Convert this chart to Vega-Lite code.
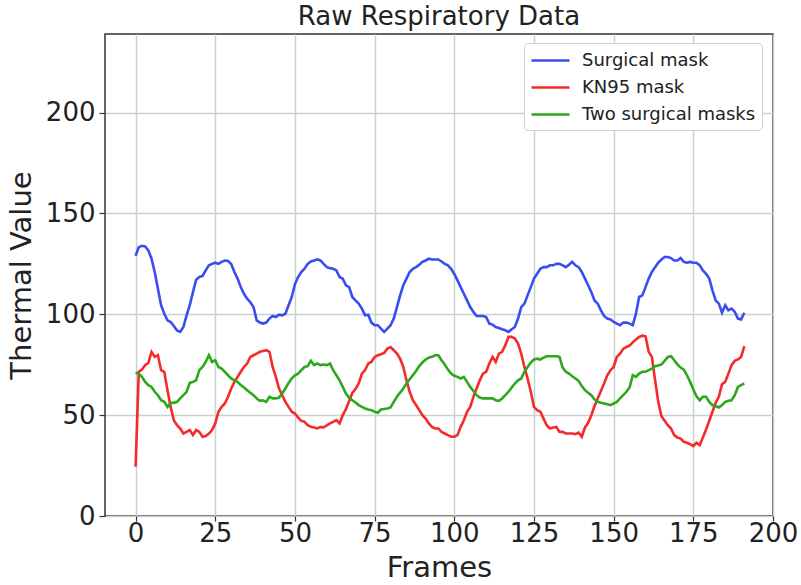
{
  "$schema": "https://vega.github.io/schema/vega-lite/v6.json",
  "width": 668,
  "height": 482,
  "autosize": {"type": "none"},
  "padding": {"left": 105, "top": 34, "right": 28, "bottom": 69},
  "background": "white",
  "config": {"font": "DejaVu Sans", "view": {"stroke": "#333", "strokeWidth": 1.5}},
  "title": {"text": "Raw Respiratory Data", "fontSize": 26, "fontWeight": "normal", "color": "#222", "offset": 4, "anchor": "middle"},
  "data": {"values": [
{"frame":0,"Surgical mask":129,"KN95 mask":24.4,"Two surgical masks":71},
{"frame":1,"Surgical mask":133.3,"KN95 mask":71.5,"Two surgical masks":70.6},
{"frame":2,"Surgical mask":134,"KN95 mask":72.6,"Two surgical masks":69},
{"frame":3,"Surgical mask":133.7,"KN95 mask":74.8,"Two surgical masks":66.5},
{"frame":4,"Surgical mask":131.7,"KN95 mask":75.9,"Two surgical masks":64.9},
{"frame":5,"Surgical mask":127.6,"KN95 mask":81.4,"Two surgical masks":64},
{"frame":6,"Surgical mask":121,"KN95 mask":78.9,"Two surgical masks":61.6},
{"frame":7,"Surgical mask":112.7,"KN95 mask":79.7,"Two surgical masks":59.9},
{"frame":8,"Surgical mask":104.5,"KN95 mask":72.3,"Two surgical masks":57.4},
{"frame":9,"Surgical mask":100.3,"KN95 mask":71.5,"Two surgical masks":56.6},
{"frame":10,"Surgical mask":97,"KN95 mask":62.4,"Two surgical masks":54.1},
{"frame":11,"Surgical mask":96.2,"KN95 mask":54.1,"Two surgical masks":56.1},
{"frame":12,"Surgical mask":94.2,"KN95 mask":47.5,"Two surgical masks":56.1},
{"frame":13,"Surgical mask":92,"KN95 mask":45,"Two surgical masks":56.6},
{"frame":14,"Surgical mask":91.3,"KN95 mask":43.4,"Two surgical masks":58.3},
{"frame":15,"Surgical mask":93.7,"KN95 mask":40.9,"Two surgical masks":59.9},
{"frame":16,"Surgical mask":99.5,"KN95 mask":41.7,"Two surgical masks":61.6},
{"frame":17,"Surgical mask":104.5,"KN95 mask":42.6,"Two surgical masks":66},
{"frame":18,"Surgical mask":111,"KN95 mask":40.1,"Two surgical masks":66.5},
{"frame":19,"Surgical mask":117.2,"KN95 mask":42.6,"Two surgical masks":67.3},
{"frame":20,"Surgical mask":118.5,"KN95 mask":41.7,"Two surgical masks":72.3},
{"frame":21,"Surgical mask":119,"KN95 mask":39.3,"Two surgical masks":73.9},
{"frame":22,"Surgical mask":121.8,"KN95 mask":39.6,"Two surgical masks":76.4},
{"frame":23,"Surgical mask":124.3,"KN95 mask":40.9,"Two surgical masks":79.7},
{"frame":24,"Surgical mask":125,"KN95 mask":42.6,"Two surgical masks":76.4},
{"frame":25,"Surgical mask":125.6,"KN95 mask":45.9,"Two surgical masks":77.2},
{"frame":26,"Surgical mask":125,"KN95 mask":51.7,"Two surgical masks":73.9},
{"frame":27,"Surgical mask":126,"KN95 mask":54.1,"Two surgical masks":73.1},
{"frame":28,"Surgical mask":126.7,"KN95 mask":55.8,"Two surgical masks":71.5},
{"frame":29,"Surgical mask":126.4,"KN95 mask":59.1,"Two surgical masks":69.8},
{"frame":30,"Surgical mask":125,"KN95 mask":63.2,"Two surgical masks":68.2},
{"frame":31,"Surgical mask":121,"KN95 mask":66.5,"Two surgical masks":67.3},
{"frame":32,"Surgical mask":117.7,"KN95 mask":69,"Two surgical masks":66.5},
{"frame":33,"Surgical mask":113.5,"KN95 mask":71.5,"Two surgical masks":64.9},
{"frame":34,"Surgical mask":110.2,"KN95 mask":73.9,"Two surgical masks":63.7},
{"frame":35,"Surgical mask":107.8,"KN95 mask":75.6,"Two surgical masks":62.4},
{"frame":36,"Surgical mask":106,"KN95 mask":78.9,"Two surgical masks":61.1},
{"frame":37,"Surgical mask":103.6,"KN95 mask":79.7,"Two surgical masks":59.9},
{"frame":38,"Surgical mask":97,"KN95 mask":80.5,"Two surgical masks":58.3},
{"frame":39,"Surgical mask":95.9,"KN95 mask":81.4,"Two surgical masks":57.1},
{"frame":40,"Surgical mask":95.4,"KN95 mask":81.8,"Two surgical masks":57.4},
{"frame":41,"Surgical mask":95.9,"KN95 mask":82.2,"Two surgical masks":56.6},
{"frame":42,"Surgical mask":97.9,"KN95 mask":81.4,"Two surgical masks":59.1},
{"frame":43,"Surgical mask":99.2,"KN95 mask":73.9,"Two surgical masks":58.3},
{"frame":44,"Surgical mask":98.7,"KN95 mask":69,"Two surgical masks":58.3},
{"frame":45,"Surgical mask":99.8,"KN95 mask":63.2,"Two surgical masks":58.7},
{"frame":46,"Surgical mask":99.5,"KN95 mask":59.9,"Two surgical masks":60.7},
{"frame":47,"Surgical mask":100.3,"KN95 mask":56.6,"Two surgical masks":63.2},
{"frame":48,"Surgical mask":104.5,"KN95 mask":54.1,"Two surgical masks":66},
{"frame":49,"Surgical mask":108.6,"KN95 mask":51.7,"Two surgical masks":68.2},
{"frame":50,"Surgical mask":115,"KN95 mask":50.8,"Two surgical masks":69.8},
{"frame":51,"Surgical mask":118.5,"KN95 mask":48.8,"Two surgical masks":70.6},
{"frame":52,"Surgical mask":121,"KN95 mask":47.2,"Two surgical masks":72.3},
{"frame":53,"Surgical mask":122.6,"KN95 mask":46.7,"Two surgical masks":73.9},
{"frame":54,"Surgical mask":125,"KN95 mask":45,"Two surgical masks":74.3},
{"frame":55,"Surgical mask":126.2,"KN95 mask":44.2,"Two surgical masks":76.9},
{"frame":56,"Surgical mask":126.7,"KN95 mask":43.9,"Two surgical masks":74.8},
{"frame":57,"Surgical mask":127.2,"KN95 mask":43.4,"Two surgical masks":75.6},
{"frame":58,"Surgical mask":126.7,"KN95 mask":44.2,"Two surgical masks":74.8},
{"frame":59,"Surgical mask":125,"KN95 mask":43.9,"Two surgical masks":75.1},
{"frame":60,"Surgical mask":123.4,"KN95 mask":45,"Two surgical masks":74.8},
{"frame":61,"Surgical mask":122.9,"KN95 mask":45.9,"Two surgical masks":75.6},
{"frame":62,"Surgical mask":122.6,"KN95 mask":46.7,"Two surgical masks":72.3},
{"frame":63,"Surgical mask":121.8,"KN95 mask":47.5,"Two surgical masks":69.8},
{"frame":64,"Surgical mask":118.5,"KN95 mask":45.9,"Two surgical masks":67.3},
{"frame":65,"Surgical mask":117.7,"KN95 mask":50,"Two surgical masks":64},
{"frame":66,"Surgical mask":114.4,"KN95 mask":53,"Two surgical masks":60.7},
{"frame":67,"Surgical mask":113.5,"KN95 mask":57,"Two surgical masks":58.6},
{"frame":68,"Surgical mask":108.6,"KN95 mask":61,"Two surgical masks":57.4},
{"frame":69,"Surgical mask":106.9,"KN95 mask":63,"Two surgical masks":56.3},
{"frame":70,"Surgical mask":105.3,"KN95 mask":65.7,"Two surgical masks":55},
{"frame":71,"Surgical mask":102.8,"KN95 mask":70.6,"Two surgical masks":54.1},
{"frame":72,"Surgical mask":99.5,"KN95 mask":72.3,"Two surgical masks":53.3},
{"frame":73,"Surgical mask":99.8,"KN95 mask":75.6,"Two surgical masks":52.8},
{"frame":74,"Surgical mask":95.9,"KN95 mask":76.4,"Two surgical masks":52.5},
{"frame":75,"Surgical mask":94.6,"KN95 mask":78.9,"Two surgical masks":51.7},
{"frame":76,"Surgical mask":94.6,"KN95 mask":79.7,"Two surgical masks":51.2},
{"frame":77,"Surgical mask":92.9,"KN95 mask":80.2,"Two surgical masks":52.8},
{"frame":78,"Surgical mask":91.3,"KN95 mask":80.9,"Two surgical masks":53.1},
{"frame":79,"Surgical mask":92.9,"KN95 mask":83,"Two surgical masks":53.3},
{"frame":80,"Surgical mask":94.6,"KN95 mask":83.8,"Two surgical masks":53.8},
{"frame":81,"Surgical mask":97.9,"KN95 mask":82.2,"Two surgical masks":56.6},
{"frame":82,"Surgical mask":103.6,"KN95 mask":80.5,"Two surgical masks":59.1},
{"frame":83,"Surgical mask":109.4,"KN95 mask":78,"Two surgical masks":61.2},
{"frame":84,"Surgical mask":114.4,"KN95 mask":73.9,"Two surgical masks":63.2},
{"frame":85,"Surgical mask":117.7,"KN95 mask":67.3,"Two surgical masks":65.7},
{"frame":86,"Surgical mask":121,"KN95 mask":61.6,"Two surgical masks":67.8},
{"frame":87,"Surgical mask":122.6,"KN95 mask":57.4,"Two surgical masks":69.8},
{"frame":88,"Surgical mask":123.4,"KN95 mask":55,"Two surgical masks":71.9},
{"frame":89,"Surgical mask":124.6,"KN95 mask":52.5,"Two surgical masks":74.3},
{"frame":90,"Surgical mask":126,"KN95 mask":50,"Two surgical masks":76.1},
{"frame":91,"Surgical mask":126.7,"KN95 mask":48.3,"Two surgical masks":77.6},
{"frame":92,"Surgical mask":127.6,"KN95 mask":45.9,"Two surgical masks":78.5},
{"frame":93,"Surgical mask":127.2,"KN95 mask":44.2,"Two surgical masks":78.9},
{"frame":94,"Surgical mask":127.2,"KN95 mask":43.4,"Two surgical masks":79.7},
{"frame":95,"Surgical mask":127.2,"KN95 mask":43.4,"Two surgical masks":79.7},
{"frame":96,"Surgical mask":126.2,"KN95 mask":41.7,"Two surgical masks":77.2},
{"frame":97,"Surgical mask":125,"KN95 mask":40.9,"Two surgical masks":75.1},
{"frame":98,"Surgical mask":124.3,"KN95 mask":40.1,"Two surgical masks":72.6},
{"frame":99,"Surgical mask":122.6,"KN95 mask":39.3,"Two surgical masks":70.6},
{"frame":100,"Surgical mask":120,"KN95 mask":39.3,"Two surgical masks":69.5},
{"frame":101,"Surgical mask":116.8,"KN95 mask":40.1,"Two surgical masks":69},
{"frame":102,"Surgical mask":113.5,"KN95 mask":44.2,"Two surgical masks":68.2},
{"frame":103,"Surgical mask":110.2,"KN95 mask":47.5,"Two surgical masks":69},
{"frame":104,"Surgical mask":106.9,"KN95 mask":51.7,"Two surgical masks":66.5},
{"frame":105,"Surgical mask":103.6,"KN95 mask":54.1,"Two surgical masks":64},
{"frame":106,"Surgical mask":101.2,"KN95 mask":59.1,"Two surgical masks":62},
{"frame":107,"Surgical mask":99.2,"KN95 mask":63.2,"Two surgical masks":59.9},
{"frame":108,"Surgical mask":99.2,"KN95 mask":67.3,"Two surgical masks":58.7},
{"frame":109,"Surgical mask":99.2,"KN95 mask":70.6,"Two surgical masks":58.3},
{"frame":110,"Surgical mask":98.7,"KN95 mask":71.5,"Two surgical masks":58.3},
{"frame":111,"Surgical mask":95.4,"KN95 mask":75.6,"Two surgical masks":58.3},
{"frame":112,"Surgical mask":94.9,"KN95 mask":78.9,"Two surgical masks":58.3},
{"frame":113,"Surgical mask":93.7,"KN95 mask":76.4,"Two surgical masks":57.4},
{"frame":114,"Surgical mask":93.2,"KN95 mask":80.5,"Two surgical masks":57.1},
{"frame":115,"Surgical mask":92.6,"KN95 mask":81.4,"Two surgical masks":58.3},
{"frame":116,"Surgical mask":92.1,"KN95 mask":84.7,"Two surgical masks":59.9},
{"frame":117,"Surgical mask":91.3,"KN95 mask":88.8,"Two surgical masks":61.6},
{"frame":118,"Surgical mask":92.6,"KN95 mask":88.8,"Two surgical masks":63.7},
{"frame":119,"Surgical mask":93.7,"KN95 mask":88,"Two surgical masks":65.7},
{"frame":120,"Surgical mask":97.9,"KN95 mask":85.5,"Two surgical masks":67.3},
{"frame":121,"Surgical mask":103.6,"KN95 mask":80.5,"Two surgical masks":68.2},
{"frame":122,"Surgical mask":105.3,"KN95 mask":73.9,"Two surgical masks":71.5},
{"frame":123,"Surgical mask":109.4,"KN95 mask":68.2,"Two surgical masks":73.9},
{"frame":124,"Surgical mask":113.5,"KN95 mask":61.6,"Two surgical masks":76.1},
{"frame":125,"Surgical mask":117.7,"KN95 mask":54.1,"Two surgical masks":77.6},
{"frame":126,"Surgical mask":120.1,"KN95 mask":52.5,"Two surgical masks":78},
{"frame":127,"Surgical mask":122.6,"KN95 mask":51.7,"Two surgical masks":77.6},
{"frame":128,"Surgical mask":123.4,"KN95 mask":48.3,"Two surgical masks":78.5},
{"frame":129,"Surgical mask":123.4,"KN95 mask":45,"Two surgical masks":79.2},
{"frame":130,"Surgical mask":124.3,"KN95 mask":43.4,"Two surgical masks":79.2},
{"frame":131,"Surgical mask":124.3,"KN95 mask":43.9,"Two surgical masks":79.2},
{"frame":132,"Surgical mask":125,"KN95 mask":44.2,"Two surgical masks":79.2},
{"frame":133,"Surgical mask":125,"KN95 mask":41.7,"Two surgical masks":78.9},
{"frame":134,"Surgical mask":124.3,"KN95 mask":41.7,"Two surgical masks":73.6},
{"frame":135,"Surgical mask":123.4,"KN95 mask":40.9,"Two surgical masks":71.5},
{"frame":136,"Surgical mask":124.6,"KN95 mask":40.9,"Two surgical masks":70.6},
{"frame":137,"Surgical mask":126,"KN95 mask":40.9,"Two surgical masks":69.3},
{"frame":138,"Surgical mask":124.3,"KN95 mask":40.6,"Two surgical masks":68.2},
{"frame":139,"Surgical mask":123.4,"KN95 mask":41.3,"Two surgical masks":67},
{"frame":140,"Surgical mask":121,"KN95 mask":39.3,"Two surgical masks":64.4},
{"frame":141,"Surgical mask":117.7,"KN95 mask":43.9,"Two surgical masks":62.4},
{"frame":142,"Surgical mask":114.4,"KN95 mask":46.2,"Two surgical masks":61.1},
{"frame":143,"Surgical mask":111,"KN95 mask":50,"Two surgical masks":59.9},
{"frame":144,"Surgical mask":106.9,"KN95 mask":54.5,"Two surgical masks":57.8},
{"frame":145,"Surgical mask":105.3,"KN95 mask":58.3,"Two surgical masks":56.6},
{"frame":146,"Surgical mask":102,"KN95 mask":62,"Two surgical masks":56.1},
{"frame":147,"Surgical mask":99.2,"KN95 mask":65.7,"Two surgical masks":55.8},
{"frame":148,"Surgical mask":97.9,"KN95 mask":69.8,"Two surgical masks":55.4},
{"frame":149,"Surgical mask":97.5,"KN95 mask":72.3,"Two surgical masks":55},
{"frame":150,"Surgical mask":96.2,"KN95 mask":73.9,"Two surgical masks":55.8},
{"frame":151,"Surgical mask":95.4,"KN95 mask":78.9,"Two surgical masks":56.6},
{"frame":152,"Surgical mask":94.6,"KN95 mask":80.5,"Two surgical masks":58.3},
{"frame":153,"Surgical mask":95.9,"KN95 mask":82.8,"Two surgical masks":59.9},
{"frame":154,"Surgical mask":95.9,"KN95 mask":83.8,"Two surgical masks":61.6},
{"frame":155,"Surgical mask":95.4,"KN95 mask":84.5,"Two surgical masks":63.7},
{"frame":156,"Surgical mask":94.6,"KN95 mask":86.1,"Two surgical masks":69.8},
{"frame":157,"Surgical mask":100.3,"KN95 mask":87.5,"Two surgical masks":69},
{"frame":158,"Surgical mask":108.6,"KN95 mask":88.8,"Two surgical masks":70.6},
{"frame":159,"Surgical mask":109.4,"KN95 mask":89.4,"Two surgical masks":71.5},
{"frame":160,"Surgical mask":113.5,"KN95 mask":89.1,"Two surgical masks":71.5},
{"frame":161,"Surgical mask":117.7,"KN95 mask":81.4,"Two surgical masks":72.3},
{"frame":162,"Surgical mask":121,"KN95 mask":78.9,"Two surgical masks":73.1},
{"frame":163,"Surgical mask":123.4,"KN95 mask":67.3,"Two surgical masks":74.3},
{"frame":164,"Surgical mask":125.6,"KN95 mask":56.6,"Two surgical masks":74.6},
{"frame":165,"Surgical mask":127.2,"KN95 mask":49.5,"Two surgical masks":75.2},
{"frame":166,"Surgical mask":128.4,"KN95 mask":47.2,"Two surgical masks":76.9},
{"frame":167,"Surgical mask":128.4,"KN95 mask":45,"Two surgical masks":78.9},
{"frame":168,"Surgical mask":127.9,"KN95 mask":43.4,"Two surgical masks":79.2},
{"frame":169,"Surgical mask":126.7,"KN95 mask":40.1,"Two surgical masks":77.2},
{"frame":170,"Surgical mask":126.7,"KN95 mask":38.9,"Two surgical masks":75.2},
{"frame":171,"Surgical mask":127.9,"KN95 mask":38.4,"Two surgical masks":73.6},
{"frame":172,"Surgical mask":126,"KN95 mask":36.8,"Two surgical masks":72.6},
{"frame":173,"Surgical mask":125.6,"KN95 mask":36.3,"Two surgical masks":69.8},
{"frame":174,"Surgical mask":126,"KN95 mask":35.6,"Two surgical masks":66.5},
{"frame":175,"Surgical mask":125.6,"KN95 mask":34.7,"Two surgical masks":62.7},
{"frame":176,"Surgical mask":125.6,"KN95 mask":36.3,"Two surgical masks":59.4},
{"frame":177,"Surgical mask":124.3,"KN95 mask":35.1,"Two surgical masks":57.4},
{"frame":178,"Surgical mask":121.8,"KN95 mask":38.9,"Two surgical masks":59.1},
{"frame":179,"Surgical mask":120.1,"KN95 mask":42.9,"Two surgical masks":59.1},
{"frame":180,"Surgical mask":117.7,"KN95 mask":47.2,"Two surgical masks":56.6},
{"frame":181,"Surgical mask":111.9,"KN95 mask":51.7,"Two surgical masks":55},
{"frame":182,"Surgical mask":106.9,"KN95 mask":56.1,"Two surgical masks":54.5},
{"frame":183,"Surgical mask":105.3,"KN95 mask":59.1,"Two surgical masks":53.8},
{"frame":184,"Surgical mask":100.8,"KN95 mask":65.3,"Two surgical masks":55},
{"frame":185,"Surgical mask":104.5,"KN95 mask":66.5,"Two surgical masks":56.6},
{"frame":186,"Surgical mask":102,"KN95 mask":70.6,"Two surgical masks":57.1},
{"frame":187,"Surgical mask":102.8,"KN95 mask":74.8,"Two surgical masks":57.4},
{"frame":188,"Surgical mask":101.2,"KN95 mask":76.9,"Two surgical masks":59.9},
{"frame":189,"Surgical mask":97.9,"KN95 mask":77.6,"Two surgical masks":64},
{"frame":190,"Surgical mask":97.5,"KN95 mask":78.9,"Two surgical masks":64.9},
{"frame":191,"Surgical mask":100.8,"KN95 mask":84.2,"Two surgical masks":65.7}
  ]},
  "transform": [{"fold": ["Surgical mask", "KN95 mask", "Two surgical masks"], "as": ["series", "value"]}],
  "mark": {"type": "line", "strokeWidth": 2.6, "clip": true},
  "encoding": {
    "x": {
      "field": "frame", "type": "quantitative",
      "scale": {"domain": [-9.6, 200], "nice": false, "zero": false},
      "axis": {"values": [0, 25, 50, 75, 100, 125, 150, 175, 200], "title": "Frames", "grid": true, "gridColor": "#c9d1d1", "gridWidth": 1.5, "domain": false, "tickColor": "#333", "tickSize": 5, "tickWidth": 1.2, "labelFontSize": 26, "labelColor": "#222", "labelFlush": false, "labelPadding": -1, "titleFontSize": 29, "titleFontWeight": "normal", "titleColor": "#222", "titlePadding": 7}
    },
    "y": {
      "field": "value", "type": "quantitative",
      "scale": {"domain": [0, 239], "nice": false},
      "axis": {"values": [0, 50, 100, 150, 200], "title": "Thermal Value", "grid": true, "gridColor": "#c9d1d1", "gridWidth": 1.5, "domain": false, "tickColor": "#333", "tickSize": 6, "tickWidth": 1.2, "labelFontSize": 26, "labelColor": "#222", "labelPadding": 4, "titleFontSize": 29, "titleFontWeight": "normal", "titleColor": "#222", "titlePadding": 9}
    },
    "color": {
      "field": "series", "type": "nominal",
      "scale": {"domain": ["Surgical mask", "KN95 mask", "Two surgical masks"], "range": ["#3a4cf2", "#f52a2a", "#2ca81a"]},
      "legend": {"orient": "none", "legendX": 419, "legendY": 9, "title": null, "symbolType": "M-1,0H2.8", "symbolSize": 400, "symbolStrokeWidth": 2.6, "labelFontSize": 18, "labelColor": "#222", "labelOffset": 29, "labelLimit": 0, "fillColor": "white", "strokeColor": "#d0d0d0", "cornerRadius": 4, "padding": 6, "rowPadding": 6}
    }
  }
}
